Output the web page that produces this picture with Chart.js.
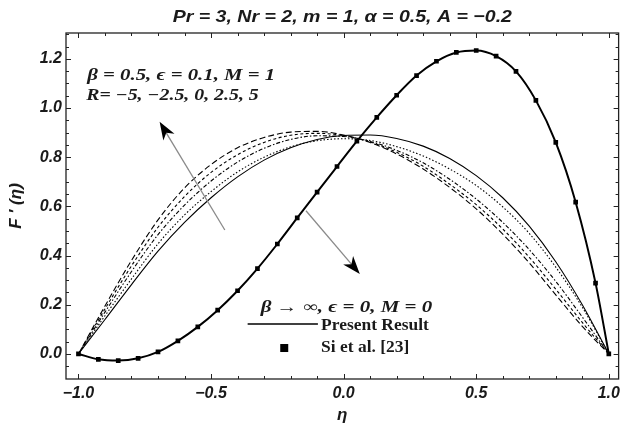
<!DOCTYPE html>
<html>
<head>
<meta charset="utf-8">
<title>F'(eta) profiles</title>
<script src="https://cdn.jsdelivr.net/npm/chart.js@4.4.1/dist/chart.umd.min.js"></script>
<style>
  html, body { margin: 0; padding: 0; background: #fff; }
  #wrap { width: 625px; height: 428px; }
</style>
</head>
<body>
<div id="wrap"><canvas id="chart" width="625" height="428"></canvas></div>
<script>
// --- Data ---
// thin curves: beta = 0.5, eps = 0.1, M = 1, R = -5, -2.5, 0, 2.5, 5
const etaThin = [-1.0, -0.9, -0.8, -0.7, -0.6, -0.5, -0.4, -0.3, -0.2, -0.1, 0.0,
                 0.1, 0.2, 0.3, 0.4, 0.5, 0.6, 0.7, 0.8, 0.9, 1.0];
const fRm5  = [0, 0.140, 0.282, 0.418, 0.535, 0.635, 0.720, 0.788, 0.838, 0.872, 0.888,
               0.890, 0.876, 0.845, 0.795, 0.725, 0.635, 0.520, 0.375, 0.200, 0];
const fRm25 = [0, 0.155, 0.305, 0.448, 0.565, 0.660, 0.740, 0.800, 0.842, 0.867, 0.875,
               0.868, 0.843, 0.805, 0.752, 0.685, 0.598, 0.490, 0.353, 0.190, 0];
const fR0   = [0, 0.170, 0.335, 0.485, 0.605, 0.703, 0.780, 0.836, 0.872, 0.887, 0.884,
               0.864, 0.828, 0.777, 0.710, 0.630, 0.535, 0.424, 0.295, 0.150, 0];
const fR25  = [0, 0.183, 0.358, 0.515, 0.640, 0.738, 0.810, 0.860, 0.889, 0.897, 0.888,
               0.862, 0.820, 0.763, 0.690, 0.607, 0.508, 0.393, 0.263, 0.128, 0];
const fR5   = [0, 0.195, 0.380, 0.545, 0.675, 0.770, 0.838, 0.880, 0.902, 0.905, 0.890,
               0.860, 0.813, 0.752, 0.677, 0.590, 0.487, 0.370, 0.240, 0.112, 0];

// thick curve with markers: beta -> inf, eps = 0, M = 0 (present result / Si et al.)
const etaRef = [-1.0, -0.925, -0.85, -0.775, -0.7, -0.625, -0.55, -0.475, -0.4, -0.325,
                -0.25, -0.175, -0.1, -0.025, 0.05, 0.125, 0.2, 0.275, 0.35, 0.425,
                0.5, 0.575, 0.65, 0.725, 0.8, 0.875, 0.95, 1.0];
const fRef   = [0, -0.022, -0.027, -0.018, 0.008, 0.053, 0.110, 0.178, 0.257, 0.347,
                0.447, 0.553, 0.658, 0.762, 0.865, 0.962, 1.052, 1.132, 1.190, 1.226,
                1.234, 1.211, 1.149, 1.031, 0.860, 0.617, 0.288, 0];

const xTicks = [-1.0, -0.5, 0.0, 0.5, 1.0];
const yTicks = [0.0, 0.2, 0.4, 0.6, 0.8, 1.0, 1.2];

const TITLE = 'Pr = 3, Nr = 2, m = 1, \u03B1 = 0.5, A = \u22120.2';
const SANS = '"Liberation Sans", Arial, sans-serif';
const SERIF = '"Liberation Serif", "Times New Roman", serif';
const INK = '#1a1a1a';

const pts = (xs, ys) => xs.map((x, i) => ({ x, y: ys[i] }));
const fmt = v => (v < 0 ? '\u2212' : '') + Math.abs(v).toFixed(1);

function thin(data, dash) {
  return {
    data: pts(etaThin, data),
    borderColor: '#000',
    borderWidth: 1.1,
    borderDash: dash,
    pointRadius: 0,
    cubicInterpolationMode: 'monotone',
    fill: false,
  };
}

// --- Frame with inward major/minor ticks (Mathematica style) ---
const frameTicks = {
  id: 'frameTicks',
  afterDraw(chart) {
    const { ctx, chartArea: a, scales: { x, y } } = chart;
    ctx.save();
    ctx.strokeStyle = '#222';
    ctx.lineWidth = 1.3;
    ctx.strokeRect(a.left, a.top, a.right - a.left, a.bottom - a.top);
    ctx.lineWidth = 1;
    ctx.beginPath();
    for (let i = -10; i <= 10; i++) {
      const px = Math.round(x.getPixelForValue(i / 10)) + 0.5;
      const len = i % 5 === 0 ? 5 : 3;
      ctx.moveTo(px, a.bottom); ctx.lineTo(px, a.bottom - len);
      ctx.moveTo(px, a.top); ctx.lineTo(px, a.top + len);
    }
    for (let i = -1; i <= 26; i++) {
      const py = Math.round(y.getPixelForValue(i * 0.05)) + 0.5;
      if (py < a.top + 1 || py > a.bottom - 1) continue;
      const len = i % 4 === 0 ? 5 : 3;
      ctx.moveTo(a.left, py); ctx.lineTo(a.left + len, py);
      ctx.moveTo(a.right, py); ctx.lineTo(a.right - len, py);
    }
    ctx.stroke();
    ctx.restore();
  },
};

// --- Title, labels, arrows, legend (positions in data units) ---
function stretchText(ctx, text, px, py, sx) {
  ctx.save();
  ctx.translate(px, py);
  ctx.scale(sx, 1);
  ctx.fillText(text, 0, 0);
  ctx.restore();
}

function arrow(ctx, x0, y0, x1, y1) {
  const ang = Math.atan2(y1 - y0, x1 - x0);
  const c = Math.cos(ang), s = Math.sin(ang);
  const L = 18, W = 6.5;
  ctx.strokeStyle = '#8a8a8a';
  ctx.lineWidth = 1.3;
  ctx.beginPath();
  ctx.moveTo(x0, y0);
  ctx.lineTo(x1 - L * 0.7 * c, y1 - L * 0.7 * s);
  ctx.stroke();
  ctx.fillStyle = '#000';
  ctx.beginPath();
  ctx.moveTo(x1, y1);
  ctx.lineTo(x1 - L * c - W * s, y1 - L * s + W * c);
  ctx.lineTo(x1 - L * 0.72 * c, y1 - L * 0.72 * s);
  ctx.lineTo(x1 - L * c + W * s, y1 - L * s - W * c);
  ctx.closePath();
  ctx.fill();
}

const annotations = {
  id: 'annotations',
  afterDraw(chart) {
    const { ctx, chartArea: a, scales: { x, y } } = chart;
    const X = v => x.getPixelForValue(v), Y = v => y.getPixelForValue(v);
    ctx.save();

    // title, widened like the source figure
    ctx.fillStyle = INK;
    ctx.textBaseline = 'middle';
    ctx.textAlign = 'center';
    ctx.font = 'bold italic 17px ' + SANS;
    stretchText(ctx, TITLE, (a.left + a.right) / 2, 17, 1.15);

    arrow(ctx, X(-0.448), Y(0.504), X(-0.694), Y(0.944));
    arrow(ctx, X(-0.142), Y(0.582), X(0.061), Y(0.325));

    ctx.fillStyle = INK;
    ctx.textAlign = 'left';
    ctx.font = 'bold italic 16px ' + SERIF;
    stretchText(ctx, '\u03B2 = 0.5, \u03F5 = 0.1, M = 1', X(-0.967), Y(1.131), 1.3);
    stretchText(ctx, 'R= \u22125, \u22122.5, 0, 2.5, 5', X(-0.971), Y(1.05), 1.24);
    stretchText(ctx, '\u03B2 \u2192 \u221E, \u03F5 = 0, M = 0', X(-0.313), Y(0.187), 1.31);

    // legend
    ctx.strokeStyle = '#000';
    ctx.lineWidth = 1.5;
    ctx.beginPath();
    ctx.moveTo(X(-0.362), Y(0.122));
    ctx.lineTo(X(-0.097), Y(0.122));
    ctx.stroke();
    ctx.fillStyle = '#000';
    ctx.fillRect(X(-0.224) - 4, Y(0.024) - 4, 8, 8);
    ctx.fillStyle = INK;
    ctx.font = 'bold 16px ' + SERIF;
    stretchText(ctx, 'Present Result', X(-0.085), Y(0.114), 1.09);
    stretchText(ctx, 'Si et al. [23]', X(-0.085), Y(0.024), 1.09);
    ctx.restore();
  },
};

// --- Chart ---
const tickFont = { family: SANS, size: 16, weight: 'bold', style: 'italic' };
const titleFont = { family: SANS, size: 17, weight: 'bold', style: 'italic' };

new Chart(document.getElementById('chart'), {
  type: 'line',
  data: {
    datasets: [
      thin(fRm5, []),
      thin(fRm25, [1.5, 2]),
      thin(fR0, [4, 2, 1.5, 2]),
      thin(fR25, [3, 2.5]),
      thin(fR5, [6, 3]),
      {
        data: pts(etaRef, fRef),
        borderColor: '#000',
        borderWidth: 2,
        pointStyle: 'rect',
        pointRadius: 3.3,
        pointBackgroundColor: '#000',
        pointBorderWidth: 0,
        cubicInterpolationMode: 'monotone',
        fill: false,
      },
    ],
  },
  options: {
    responsive: false,
    animation: false,
    devicePixelRatio: 1,
    layout: { padding: { left: 0, right: 2, top: 33, bottom: 0 } },
    plugins: {
      legend: { display: false },
      tooltip: { enabled: false },
      title: { display: false },
    },
    scales: {
      x: {
        type: 'linear',
        min: -1.047,
        max: 1.037,
        afterBuildTicks: s => { s.ticks = xTicks.map(v => ({ value: v })); },
        afterFit: s => { s.height = 49; },
        grid: { display: false, drawTicks: false },
        border: { display: false },
        ticks: { color: INK, font: tickFont, padding: 5, maxRotation: 0, callback: fmt },
        title: {
          display: true,
          text: '\u03B7',
          color: INK,
          font: titleFont,
          padding: { top: 0, bottom: 2 },
        },
      },
      y: {
        type: 'linear',
        min: -0.102,
        max: 1.305,
        afterBuildTicks: s => { s.ticks = yTicks.map(v => ({ value: v })); },
        afterFit: s => { s.width = 66; },
        grid: { display: false, drawTicks: false },
        border: { display: false },
        ticks: { color: INK, font: tickFont, padding: 4, callback: fmt },
        title: {
          display: true,
          text: 'F \u2032 (\u03B7)',
          color: INK,
          font: titleFont,
          padding: { top: 6, bottom: 0 },
        },
      },
    },
  },
  plugins: [frameTicks, annotations],
});
</script>
</body>
</html>
